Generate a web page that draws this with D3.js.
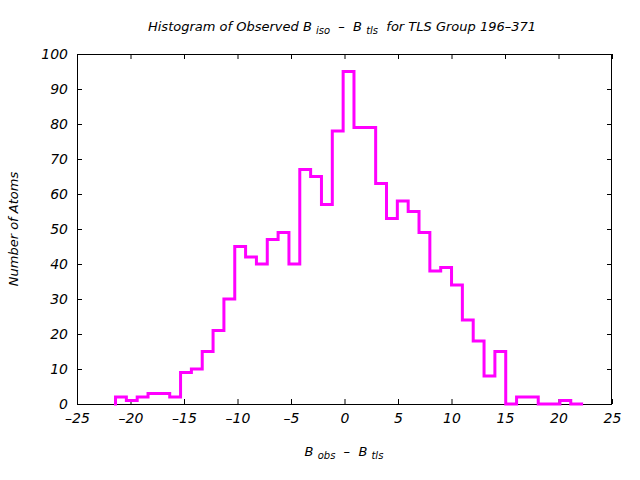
<!DOCTYPE html>
<html>
<head>
<meta charset="utf-8">
<script src="https://cdn.jsdelivr.net/npm/d3@7"></script>
<style>
  html, body { margin: 0; padding: 0; background: #fff; }
  text { font-family: "DejaVu Sans", sans-serif; font-style: italic; fill: #000; }
</style>
</head>
<body>
<svg id="chart" width="640" height="480"></svg>
<script>
// ---- data ----
const binStart = -21.4;
const binWidth = 1.013;
const counts = [2, 1, 2, 3, 3, 2, 9, 10, 15, 21, 30, 45, 42, 40, 47, 49, 40, 67, 65, 57,
                78, 95, 79, 79, 63, 53, 58, 55, 49, 38, 39, 34, 24, 18, 8, 15, 0, 2, 2, 0,
                0, 1, 0];
const xTicks = [-25, -20, -15, -10, -5, 0, 5, 10, 15, 20, 25];
const yTicks = [0, 10, 20, 30, 40, 50, 60, 70, 80, 90, 100];

// ---- layout ----
const svg = d3.select("#chart");
const L = 77, R = 612, T = 54, B = 404;
const x = d3.scaleLinear().domain([-25, 25]).range([L, R]);
const y = d3.scaleLinear().domain([0, 100]).range([B, T]);

svg.append("rect").attr("width", 640).attr("height", 480).attr("fill", "#fff");

// axes (inward ticks, mirrored)
const tl = 5;
const gB = svg.append("g").attr("transform", `translate(0,${B})`)
  .call(d3.axisBottom(x).tickValues(xTicks).tickSize(-tl).tickPadding(9).tickFormat(d3.format("d")));
const gT = svg.append("g").attr("transform", `translate(0,${T})`)
  .call(d3.axisTop(x).tickValues(xTicks).tickSize(-tl).tickFormat(""));
const gL = svg.append("g").attr("transform", `translate(${L},0)`)
  .call(d3.axisLeft(y).tickValues(yTicks).tickSize(-tl).tickPadding(9).tickFormat(d3.format("d")));
const gR = svg.append("g").attr("transform", `translate(${R},0)`)
  .call(d3.axisRight(y).tickValues(yTicks).tickSize(-tl).tickFormat(""));
[gB, gT, gL, gR].forEach(g => {
  g.select(".domain").remove();
  g.selectAll("line").attr("stroke", "#000").attr("stroke-width", 1);
  g.selectAll("text").style("font-family", "'DejaVu Sans', sans-serif")
    .style("font-style", "italic").style("font-size", "14px").attr("fill", "#000");
});
gB.selectAll("text").text(d => d < 0 ? "\u2013" + Math.abs(d) : d);

svg.append("rect").attr("x", L + 0.5).attr("y", T + 0.5)
  .attr("width", R - L - 1).attr("height", B - T)
  .attr("fill", "none").attr("stroke", "#000").attr("stroke-width", 1);

// histogram steps
const pts = [[binStart, 0]];
counts.forEach((c, i) => {
  const e0 = binStart + i * binWidth, e1 = e0 + binWidth;
  pts.push([e0, c], [e1, c]);
});
svg.append("path")
  .attr("d", d3.line().x(d => x(d[0])).y(d => y(d[1]))(pts))
  .attr("fill", "none").attr("stroke", "#ff00ff").attr("stroke-width", 3)
  .attr("stroke-linejoin", "miter").attr("stroke-linecap", "square");

const NB = "\u00a0";
// title
const title = svg.append("text").attr("x", 342).attr("y", 31)
  .attr("text-anchor", "middle").style("font-size", "13px");
title.append("tspan").text("Histogram of Observed B" + NB);
title.append("tspan").attr("dy", 3).style("font-size", "10px").text("iso");
title.append("tspan").attr("dy", -3).text(NB + NB + "\u2013" + NB + NB + "B" + NB);
title.append("tspan").attr("dy", 3).style("font-size", "10px").text("tls");
title.append("tspan").attr("dy", -3).text(NB + NB + "for TLS Group 196\u2013371");

// x label
const xl = svg.append("text").attr("x", 344).attr("y", 456)
  .attr("text-anchor", "middle").style("font-size", "13px");
xl.append("tspan").text("B" + NB);
xl.append("tspan").attr("dy", 3).style("font-size", "10px").text("obs");
xl.append("tspan").attr("dy", -3).text(NB + NB + "\u2013" + NB + NB + "B" + NB);
xl.append("tspan").attr("dy", 3).style("font-size", "10px").text("tls");

// y label
svg.append("text").attr("transform", "translate(18,229) rotate(-90)")
  .attr("text-anchor", "middle").style("font-size", "13px").text("Number of Atoms");
</script>
</body>
</html>
